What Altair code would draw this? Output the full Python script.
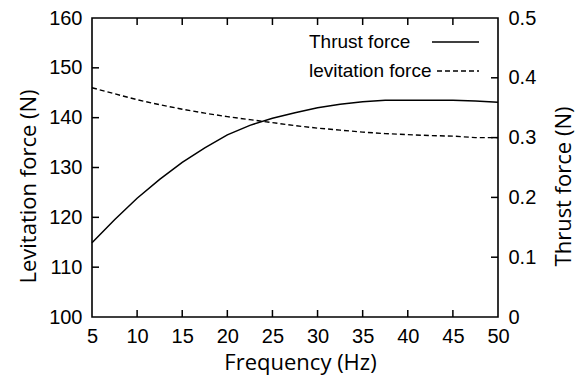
import altair as alt
import pandas as pd

# ---- data ----
freq = [5, 7.5, 10, 12.5, 15, 17.5, 20, 22.5, 25, 27.5, 30, 32.5, 35, 37.5, 40, 42.5, 45, 47.5, 50]
thrust = [0.124, 0.1625, 0.1985, 0.230, 0.2585, 0.283, 0.3045, 0.3205, 0.3325, 0.3417,
          0.350, 0.3558, 0.360, 0.3625, 0.3625, 0.3625, 0.3625, 0.361, 0.3592]
levitation = [146.0, 144.8, 143.6, 142.6, 141.7, 140.9, 140.2, 139.6, 139.0, 138.4,
              137.9, 137.5, 137.1, 136.8, 136.6, 136.4, 136.3, 136.0, 136.0]

x_labels = [5, 10, 15, 20, 25, 30, 35, 40, 45, 50]
x_inner_ticks = [10, 15, 20, 25, 30, 35, 40, 45]
lev_labels = [100, 110, 120, 130, 140, 150, 160]
lev_inner_ticks = [110, 120, 130, 140, 150]
thr_labels = [0, 0.1, 0.2, 0.3, 0.4, 0.5]
thr_inner_ticks = [0.1, 0.2, 0.3, 0.4]
legend_labels = ["Thrust force", "levitation force"]

df = pd.DataFrame({"f": freq, "thrust": thrust, "lev": levitation})
xt = pd.DataFrame({"v": x_inner_ticks})
lt = pd.DataFrame({"v": lev_inner_ticks})
rt = pd.DataFrame({"v": thr_inner_ticks})

W, H = 406, 299
LBL = "Liberation Sans"
TTL = "Open Sans"

xscale = alt.Scale(domain=[5, 50], nice=False, zero=False)
lscale = alt.Scale(domain=[100, 160], nice=False, zero=False)
rscale = alt.Scale(domain=[0, 0.5], nice=False, zero=False)

common = dict(domain=False, ticks=False, tickSize=0, grid=False,
              labelFont=LBL, labelFontSize=20, labelColor="black",
              titleFont=TTL, titleFontSize=22, titleColor="black",
              titleFontWeight="normal", labelFlush=False, labelOverlap=False)

x_axis = alt.Axis(values=x_labels, title="Frequency (Hz)", labelPadding=9,
                  titleX=208, titleY=52, titleBaseline="alphabetic", titleAlign="center",
                  **common)
l_axis = alt.Axis(values=lev_labels, title="Levitation force (N)", orient="left",
                  labelPadding=10, titleAngle=270, titleX=-64, titleY=168,
                  titleBaseline="middle", titleAlign="center", **common)
r_axis = alt.Axis(values=thr_labels, title="Thrust force (N)", orient="right",
                  labelPadding=10, titleAngle=270, titleX=65, titleY=168,
                  titleBaseline="middle", titleAlign="center", format="~g", **common)

X = lambda field: alt.X(field, scale=xscale, axis=x_axis)

lev_line = alt.Chart(df).mark_line(color="black", strokeWidth=1.4, strokeDash=[5, 3]).encode(
    x=X("f:Q"), y=alt.Y("lev:Q", scale=lscale, axis=l_axis))
thr_line = alt.Chart(df).mark_line(color="black", strokeWidth=1.5).encode(
    x=X("f:Q"), y=alt.Y("thrust:Q", scale=rscale, axis=r_axis))

bottom_ticks = alt.Chart(xt).mark_rule(color="black", strokeWidth=1.5).encode(
    x=X("v:Q"), y=alt.value(H), y2=alt.value(H - 7))
top_ticks = alt.Chart(xt).mark_rule(color="black", strokeWidth=1.5).encode(
    x=X("v:Q"), y=alt.value(0), y2=alt.value(7))
left_ticks = alt.Chart(lt).mark_rule(color="black", strokeWidth=1.5).encode(
    y=alt.Y("v:Q", scale=lscale, axis=l_axis), x=alt.value(0), x2=alt.value(7))
right_ticks = alt.Chart(rt).mark_rule(color="black", strokeWidth=1.5).encode(
    y=alt.Y("v:Q", scale=rscale, axis=r_axis), x=alt.value(W), x2=alt.value(W - 7))

leg_df1 = pd.DataFrame({"t": [legend_labels[0]]})
leg_df2 = pd.DataFrame({"t": [legend_labels[1]]})
leg_t1 = alt.Chart(leg_df1).mark_text(align="left", baseline="middle", font=LBL,
                                      fontSize=19, color="black").encode(
    text="t:N", x=alt.value(217), y=alt.value(24))
leg_t2 = alt.Chart(leg_df2).mark_text(align="left", baseline="middle", font=LBL,
                                      fontSize=19, color="black").encode(
    text="t:N", x=alt.value(217), y=alt.value(53))
leg_l1 = alt.Chart(leg_df1).mark_rule(color="black", strokeWidth=1.5).encode(
    x=alt.value(340), x2=alt.value(387), y=alt.value(24))
leg_l2 = alt.Chart(leg_df2).mark_rule(color="black", strokeWidth=1.4, strokeDash=[5, 3]).encode(
    x=alt.value(345), x2=alt.value(387), y=alt.value(53))

left_group = alt.layer(lev_line, bottom_ticks, top_ticks, left_ticks,
                       leg_t1, leg_t2, leg_l1, leg_l2)
right_group = alt.layer(thr_line, right_ticks)

chart = alt.layer(left_group, right_group).resolve_scale(y="independent").properties(
    width=W, height=H,
    autosize=alt.AutoSizeParams(type="none"),
    padding={"left": 92, "top": 18, "right": 78, "bottom": 59},
    background="white",
).configure_view(stroke="black", strokeWidth=1.6)

chart.save("out.html", embed_options={"renderer": "svg", "actions": False})
